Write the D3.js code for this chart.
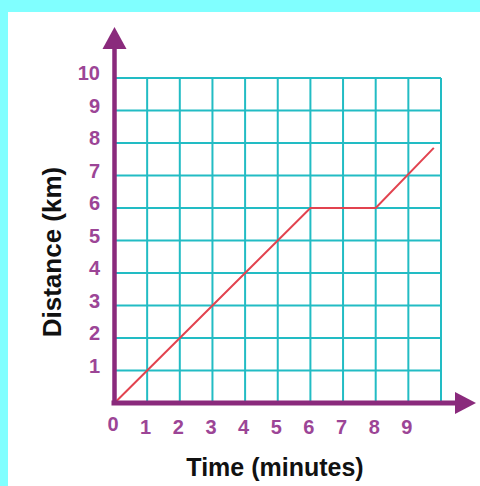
<!DOCTYPE html>
<html><head><meta charset="utf-8">
<script src="https://cdn.jsdelivr.net/npm/d3@7"></script>
<style>html,body{margin:0;padding:0;background:#80ffff;}svg{display:block;}</style>
</head><body>
<svg id="c" width="480" height="486"></svg>
<script>
const xTicks = [0,1,2,3,4,5,6,7,8,9];
const yTicks = [1,2,3,4,5,6,7,8,9,10];
const gridVals = [0,1,2,3,4,5,6,7,8,9,10];
const timeMin = [0, 6, 8, 9.78];
const distKm = [0, 6, 6, 7.85];

const svg = d3.select("#c");
svg.append("rect").attr("x",8).attr("y",12).attr("width",472).attr("height",474).attr("fill","#ffffff");

const x = d3.scaleLinear().domain([0,10]).range([114.5,441]);
const y = d3.scaleLinear().domain([0,10]).range([403,78]);

const grid = "#22bcc4";
const axisC = "#8a2a7c";
const tickC = "#9c4596";
const font = "Liberation Sans, Arial, sans-serif";

// grid
svg.append("g").selectAll("line").data(gridVals).join("line")
  .attr("x1", d=>x(d)).attr("x2", d=>x(d)).attr("y1", y(0)).attr("y2", y(10))
  .attr("stroke", grid).attr("stroke-width", 2);
svg.append("g").selectAll("line").data(gridVals).join("line")
  .attr("y1", d=>y(d)).attr("y2", d=>y(d)).attr("x1", x(0)).attr("x2", x(10))
  .attr("stroke", grid).attr("stroke-width", 2);

// data line
const pts = timeMin.map((t,i)=>[t, distKm[i]]);
svg.append("path").datum(pts)
  .attr("d", d3.line().x(d=>x(d[0])).y(d=>y(d[1])))
  .attr("fill","none").attr("stroke","#e2434f").attr("stroke-width",2);

// axes
svg.append("line").attr("x1", x(0)).attr("x2", x(0)).attr("y1", y(0)+2).attr("y2", 48)
  .attr("stroke", axisC).attr("stroke-width", 4.5);
svg.append("path").attr("d", `M${x(0)-12},49 L${x(0)},27 L${x(0)+12},49 Z`).attr("fill", axisC);
svg.append("line").attr("x1", x(0)-3).attr("x2", 456).attr("y1", y(0)).attr("y2", y(0))
  .attr("stroke", axisC).attr("stroke-width", 5);
svg.append("path").attr("d", `M455,${y(0)-11} L476,${y(0)} L455,${y(0)+11} Z`).attr("fill", axisC);

// tick labels
svg.append("g").selectAll("text").data(xTicks).join("text")
  .attr("x", d=>x(d)-1.5).attr("y", d=> d===0 ? y(0)+28 : y(0)+31)
  .attr("text-anchor","middle")
  .attr("font-family",font).attr("font-weight","bold")
  .attr("font-size",20).attr("fill",tickC).text(d=>d);
svg.append("g").selectAll("text").data(yTicks).join("text")
  .attr("x", 100).attr("y", d=>y(d)+2)
  .attr("text-anchor","end")
  .attr("font-family",font).attr("font-weight","bold")
  .attr("font-size",20).attr("fill",tickC).text(d=>d);

// titles
svg.append("text").attr("x", 275).attr("y", 476).attr("text-anchor","middle")
  .attr("font-family",font).attr("font-weight","bold")
  .attr("font-size",25).attr("fill","#111").text("Time (minutes)");
svg.append("text").attr("transform","translate(61,252) rotate(-90)").attr("text-anchor","middle")
  .attr("font-family",font).attr("font-weight","bold")
  .attr("font-size",26).attr("fill","#111").text("Distance (km)");
</script>
</body></html>
